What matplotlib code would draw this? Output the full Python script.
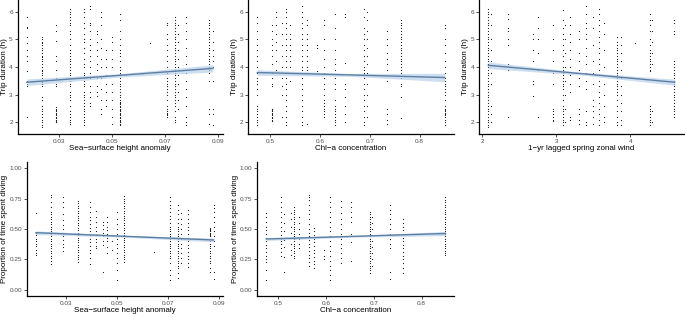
import matplotlib
matplotlib.use("Agg")
import matplotlib.pyplot as plt
import numpy as np

plt.rcParams['font.family'] = ['Liberation Sans', 'DejaVu Sans']

# ---------------- data ----------------
# Sea-surface height anomaly columns (shared by panels 1 and 4)
ssha_x = [0.018, 0.0238, 0.0288, 0.0344, 0.0394, 0.0416, 0.0444, 0.0459, 0.0479,
          0.050, 0.0529, 0.0644, 0.0707, 0.0738, 0.075, 0.0779, 0.0867, 0.0882]

ssha_trip = [
    [5.8, 5.45, 5.4, 5.1, 4.85, 4.6, 4.4, 4.2, 3.85, 3.5, 3.4, 3.3, 2.2],
    [5.1, 5.0, 4.9, 4.85, 4.8, 4.7, 4.6, 4.5, 4.4, 4.35, 4.3, 4.2, 4.1, 4.0, 3.9, 3.85, 3.8, 3.7,
     3.6, 3.5, 3.45, 3.4, 3.3, 2.9, 2.8, 2.6, 2.5, 2.4, 2.3, 2.2, 2.1, 2.0, 1.9, 1.85],
    [5.5, 5.3, 4.95, 4.4, 4.2, 3.9, 3.6, 3.4, 3.3, 2.55, 2.5, 2.45, 2.4, 2.35, 2.3, 2.25, 2.2,
     2.15, 2.1, 2.05, 2.0],
    [6.1, 6.0, 5.9, 5.8, 5.7, 5.6, 5.5, 5.3, 5.2, 5.0, 4.8, 4.6, 4.5, 4.4, 4.3, 4.2, 4.1, 4.0,
     3.9, 3.8, 3.7, 3.6, 3.5, 3.4, 3.3, 3.1, 3.0, 2.9, 2.8, 2.6, 2.4, 2.3, 2.2, 2.1, 2.0, 1.95],
    [6.1, 6.0, 5.8, 5.6, 5.4, 5.2, 5.0, 4.9, 4.7, 4.5, 4.3, 4.1, 4.0, 3.8, 3.7, 3.6, 3.5, 3.4,
     3.3, 3.1, 3.0, 2.9, 2.8, 2.7, 2.6, 2.5, 2.4, 2.3, 2.2, 2.1, 2.0, 1.9],
    [6.2, 6.1, 5.6, 5.5, 5.3, 5.0, 4.8, 4.6, 4.4, 4.2, 4.0, 3.8, 3.6, 3.3, 3.1, 2.9, 2.7, 2.6],
    [5.3, 5.2, 4.9, 4.6, 4.4, 4.1, 3.9, 3.6, 3.3, 3.1, 2.95],
    [6.0, 5.8, 5.5, 5.0, 4.7, 4.3, 4.0, 3.6, 3.2, 2.8, 2.5, 2.3],
    [4.6, 4.3, 4.0, 3.7, 3.4, 3.1, 2.8, 2.6],
    [5.1, 4.9, 4.6, 4.3, 4.0, 3.7, 3.4, 3.1, 2.8, 2.5, 2.2, 1.95],
    [5.9, 5.7, 5.3, 5.0, 4.8, 4.6, 4.5, 4.4, 4.2, 4.0, 3.9, 3.8, 3.7, 3.6, 3.5, 3.4, 3.3, 3.2,
     3.1, 3.0, 2.9, 2.8, 2.75, 2.7, 2.65, 2.6, 2.55, 2.5, 2.45, 2.4, 2.35, 2.3, 2.25, 2.2, 2.15,
     2.1, 2.05, 2.0, 1.95, 1.9],
    [4.85],
    [5.6, 5.5, 5.2, 5.0, 4.8, 4.6, 4.4, 4.2, 4.0, 3.8, 3.6, 3.5, 3.4, 3.3, 3.2, 3.1, 3.0, 2.8,
     2.6, 2.5, 2.4, 2.35, 2.3, 2.25, 2.2],
    [5.8, 5.7, 5.6, 5.5, 5.4, 5.3, 5.2, 5.1, 5.0, 4.9, 4.8, 4.7, 4.6, 4.5, 4.4, 4.3, 4.2, 4.1,
     4.0, 3.9, 3.8, 3.7, 3.6, 3.5, 3.4, 3.3, 3.2, 3.1, 3.0, 2.9, 2.8, 2.7, 2.6, 2.4, 2.2, 2.1, 2.0],
    [5.5, 5.2, 4.9, 4.6, 4.3, 4.0, 3.7, 3.4, 3.1, 2.8, 2.5],
    [5.8, 5.6, 5.3, 5.0, 4.7, 4.4, 4.1, 3.8, 3.5, 3.2, 2.9, 2.6, 2.2, 2.0, 1.9],
    [5.7, 5.6, 5.5, 5.4, 5.3, 5.2, 5.1, 5.0, 4.9, 4.8, 4.7, 4.6, 4.5, 4.4, 4.3, 4.2, 4.1, 4.0,
     3.9, 3.8, 3.5, 2.5, 2.3, 1.95],
    [5.3, 4.9, 4.6, 4.4, 4.2, 4.0, 3.5, 2.5, 2.3, 1.9],
]

ssha_prop = [
    [0.63, 0.47, 0.45, 0.42, 0.40, 0.38, 0.36, 0.33, 0.30, 0.29],
    [0.78, 0.76, 0.72, 0.68, 0.64, 0.62, 0.60, 0.58, 0.56, 0.54, 0.52, 0.50, 0.48, 0.46, 0.44,
     0.42, 0.40, 0.38, 0.36, 0.34, 0.32, 0.30, 0.28, 0.26, 0.24, 0.21],
    [0.76, 0.72, 0.68, 0.62, 0.57, 0.53, 0.50, 0.47, 0.44, 0.41, 0.38, 0.35, 0.32],
    [0.73, 0.71, 0.69, 0.67, 0.65, 0.63, 0.61, 0.59, 0.57, 0.55, 0.53, 0.51, 0.49, 0.47, 0.45,
     0.43, 0.41, 0.39, 0.37, 0.35, 0.33, 0.31, 0.29, 0.27, 0.25, 0.23],
    [0.72, 0.68, 0.64, 0.60, 0.57, 0.54, 0.51, 0.48, 0.45, 0.42, 0.39, 0.36, 0.33, 0.30, 0.26, 0.21],
    [0.65, 0.60, 0.56, 0.52, 0.48, 0.45, 0.42, 0.39, 0.36, 0.34],
    [0.56, 0.53, 0.50, 0.47, 0.44, 0.40, 0.37, 0.15],
    [0.60, 0.56, 0.52, 0.49, 0.46, 0.43, 0.40, 0.35, 0.30],
    [0.45, 0.40, 0.33],
    [0.64, 0.58, 0.54, 0.50, 0.46, 0.42, 0.38, 0.34, 0.30, 0.26, 0.22, 0.16, 0.08],
    [0.77, 0.75, 0.73, 0.71, 0.69, 0.67, 0.65, 0.63, 0.61, 0.59, 0.57, 0.55, 0.53, 0.51, 0.49,
     0.47, 0.45, 0.43, 0.41, 0.39, 0.37, 0.35, 0.33, 0.31, 0.29, 0.27, 0.25, 0.23],
    [0.31],
    [0.76, 0.73, 0.70, 0.67, 0.64, 0.61, 0.58, 0.55, 0.52, 0.50, 0.48, 0.46, 0.44, 0.42, 0.40,
     0.38, 0.36, 0.34, 0.32, 0.30, 0.28, 0.26, 0.22, 0.16, 0.12, 0.08],
    [0.70, 0.66, 0.62, 0.58, 0.55, 0.52, 0.50, 0.48, 0.46, 0.44, 0.42, 0.40, 0.38, 0.36, 0.34,
     0.32, 0.30, 0.28, 0.26, 0.24, 0.22, 0.20, 0.18, 0.14, 0.10],
    [0.63, 0.58, 0.54, 0.50, 0.46, 0.42, 0.38, 0.34, 0.30, 0.26, 0.22],
    [0.66, 0.62, 0.58, 0.55, 0.52, 0.49, 0.46, 0.43, 0.40, 0.37, 0.34, 0.31, 0.28, 0.25, 0.22, 0.19],
    [0.51, 0.50, 0.49, 0.48, 0.47, 0.46, 0.45, 0.44, 0.42, 0.40, 0.38, 0.36, 0.34, 0.32, 0.30,
     0.28, 0.26, 0.24, 0.22, 0.18, 0.15],
    [0.70, 0.67, 0.64, 0.60, 0.56, 0.52, 0.48, 0.44, 0.40, 0.36, 0.15, 0.09],
]

# Chl-a concentration columns
chl_trip_x = [0.475, 0.505, 0.512, 0.525, 0.533, 0.540, 0.565, 0.575, 0.595, 0.609,
              0.631, 0.651, 0.689, 0.695, 0.735, 0.762, 0.850]
chl_trip = [
    [5.8, 5.6, 5.3, 5.0, 4.8, 4.6, 4.4, 4.2, 4.0, 3.8, 3.6, 3.5, 3.4, 3.2, 3.0, 2.6, 2.5, 2.4,
     2.3, 2.2, 2.1, 2.0, 1.9],
    [5.5, 5.3, 5.0, 4.8, 4.6, 4.4, 4.1, 3.8, 3.6, 3.4, 3.3, 2.5, 2.45, 2.4, 2.35, 2.3, 2.25,
     2.2, 2.15, 2.1, 2.05],
    [6.0, 5.8, 5.5, 5.2, 4.9, 4.6, 4.2, 3.9],
    [5.6, 5.2, 4.8, 4.4, 4.0, 3.6, 3.3, 3.0, 2.2],
    [6.1, 6.0, 5.8, 5.6, 5.4, 5.2, 5.0, 4.8, 4.6, 4.4, 4.2, 4.0, 3.8, 3.6, 3.4, 3.2, 3.0, 2.8,
     2.6, 2.4, 2.2, 2.0, 1.9],
    [5.5, 5.2, 5.0, 4.8, 4.6, 4.4, 4.2, 4.0, 3.8, 3.5],
    [6.2, 6.0, 5.8, 5.6, 5.4, 5.2, 5.0, 4.8, 4.6, 4.4, 4.2, 4.0, 3.9, 3.8, 3.6, 3.4, 3.2, 3.0,
     2.8, 2.6, 2.4, 2.2, 2.0, 1.9],
    [5.7, 5.5, 5.2, 5.0, 4.8, 4.6, 4.4, 4.2, 4.0, 3.9, 3.8, 1.95],
    [4.8, 4.7, 3.85],
    [5.7, 5.5, 5.0, 4.6, 4.3, 4.0, 3.8, 3.6, 3.4, 3.2, 3.0, 2.8, 2.7, 2.6, 2.5, 2.4, 2.3, 2.2],
    [5.9, 5.4, 5.0, 4.6, 4.3, 4.1, 3.9, 3.6, 3.4, 3.2, 2.8, 2.6, 2.5, 2.4, 2.3, 2.2, 2.1, 2.0, 1.9],
    [5.9, 5.8, 4.15, 3.4, 3.2, 2.9, 2.6, 2.3, 2.0],
    [6.1, 5.8, 5.4, 5.2, 5.0, 4.8, 4.6, 4.4, 4.2, 4.0, 3.9, 3.8, 3.6, 3.4, 3.2, 3.0, 2.8, 2.6,
     2.4, 2.2, 2.0, 1.9],
    [6.0, 5.7, 5.3, 5.0, 4.7, 4.4, 4.1, 3.8, 3.4, 3.0, 2.6, 2.2],
    [5.3, 5.0, 4.8, 4.5, 4.3, 4.1, 3.9, 3.5, 2.5, 2.3, 2.1, 1.95],
    [5.7, 5.6, 5.5, 5.4, 5.3, 5.2, 5.1, 5.0, 4.9, 4.8, 4.7, 4.6, 4.5, 4.4, 4.3, 4.2, 4.1, 4.0,
     3.9, 3.8, 3.6, 3.4, 3.3, 2.9, 2.15],
    [5.5, 5.4, 5.0, 4.8, 4.5, 4.2, 4.0, 3.8, 3.6, 3.5, 3.4, 3.3, 3.2, 3.1, 3.0, 2.8, 2.6, 2.5,
     2.45, 2.4, 2.35, 2.3, 2.25, 2.2, 2.1, 2.0, 1.9],
]

chl_prop_x = [0.475, 0.505, 0.512, 0.526, 0.533, 0.543, 0.565, 0.576, 0.595, 0.609,
              0.632, 0.653, 0.692, 0.696, 0.735, 0.762, 0.849]
chl_prop = [
    [0.63, 0.60, 0.56, 0.52, 0.49, 0.46, 0.43, 0.40, 0.37, 0.34, 0.31, 0.28, 0.25, 0.23, 0.16, 0.08],
    [0.76, 0.72, 0.68, 0.64, 0.60, 0.56, 0.52, 0.48, 0.45, 0.42, 0.40, 0.38, 0.34, 0.31, 0.28],
    [0.62, 0.55, 0.48, 0.41, 0.35, 0.27, 0.15],
    [0.63, 0.58, 0.52, 0.47, 0.43, 0.38, 0.33, 0.29],
    [0.68, 0.66, 0.64, 0.62, 0.60, 0.58, 0.56, 0.54, 0.52, 0.50, 0.48, 0.46, 0.44, 0.42, 0.40,
     0.38, 0.36, 0.34, 0.32, 0.30, 0.28, 0.26],
    [0.60, 0.55, 0.50, 0.46, 0.42, 0.38, 0.34],
    [0.78, 0.76, 0.74, 0.70, 0.66, 0.62, 0.58, 0.54, 0.50, 0.47, 0.44, 0.41, 0.38, 0.35, 0.32,
     0.29, 0.26, 0.23, 0.20],
    [0.51, 0.48, 0.45, 0.42, 0.39, 0.36, 0.33, 0.30, 0.27, 0.24, 0.21, 0.18],
    [0.33, 0.28, 0.25],
    [0.76, 0.72, 0.68, 0.64, 0.60, 0.56, 0.52, 0.48, 0.44, 0.40, 0.36, 0.32, 0.28, 0.24, 0.20,
     0.16, 0.12, 0.08],
    [0.73, 0.68, 0.63, 0.58, 0.54, 0.50, 0.46, 0.42, 0.38, 0.34, 0.30, 0.26, 0.22],
    [0.72, 0.68, 0.64, 0.60, 0.56, 0.46, 0.39, 0.24],
    [0.64, 0.62, 0.60, 0.58, 0.56, 0.54, 0.52, 0.50, 0.48, 0.46, 0.44, 0.42, 0.40, 0.38, 0.36,
     0.34, 0.32, 0.30, 0.28, 0.26, 0.24, 0.22, 0.20, 0.18, 0.16, 0.14],
    [0.60, 0.55, 0.50, 0.45, 0.40, 0.35, 0.30, 0.25, 0.20],
    [0.70, 0.66, 0.62, 0.58, 0.54, 0.50, 0.46, 0.42, 0.38, 0.34, 0.15, 0.09],
    [0.58, 0.55, 0.52, 0.49, 0.46, 0.43, 0.40, 0.37, 0.34, 0.31, 0.28, 0.25, 0.22, 0.18, 0.14],
    [0.76, 0.74, 0.72, 0.70, 0.68, 0.66, 0.64, 0.62, 0.60, 0.58, 0.56, 0.54, 0.52, 0.50, 0.48,
     0.46, 0.44, 0.42, 0.40, 0.38, 0.36, 0.34, 0.32, 0.30, 0.29],
]

# 1-yr lagged spring zonal wind columns
wind_x = [2.08, 2.11, 2.35, 2.69, 2.75, 2.95, 3.09, 3.12, 3.18, 3.31, 3.40, 3.49,
          3.57, 3.64, 3.82, 3.88, 4.06, 4.27, 4.29, 4.59]
wind_trip = [
    [6.1, 6.0, 5.9, 5.8, 5.7, 5.6, 5.5, 5.4, 5.3, 5.2, 5.1, 5.0, 4.9, 4.8, 4.7, 4.6, 4.5, 4.4,
     4.3, 4.2, 4.1, 4.0, 3.9, 3.8, 3.7, 3.6, 3.5, 3.4, 3.3, 3.2, 3.1, 3.0, 2.9, 2.8, 2.7, 2.6,
     2.5, 2.4, 2.3, 2.2, 2.1, 2.0, 1.9, 1.85],
    [5.9, 5.5, 5.0, 4.6, 4.2, 3.8, 3.4, 2.6, 2.3, 2.0],
    [5.9, 5.75, 5.4, 5.3, 5.0, 4.8, 4.1, 3.9, 2.2],
    [5.2, 5.0, 4.6, 4.2, 3.5, 3.4, 2.95],
    [5.8, 5.4, 5.0, 4.5, 3.9, 2.2],
    [5.5, 5.0, 4.6, 4.2, 3.8, 3.4, 2.5, 2.4, 2.3, 2.2, 2.1, 2.05],
    [6.05, 5.7, 5.4, 5.2, 5.0, 4.8, 4.6, 4.4, 4.2, 4.0, 3.9, 3.8, 3.7, 3.6, 3.5, 3.4, 3.3, 3.2,
     3.0, 2.8, 2.6, 2.5, 2.4, 2.3, 2.2, 2.1, 2.0, 1.9],
    [5.5, 5.0, 4.5, 4.0, 3.5, 3.0, 2.5, 2.0],
    [5.8, 5.5, 5.2, 4.9, 4.6, 4.3, 4.0, 3.7, 3.4, 3.1, 2.2, 2.1],
    [5.3, 5.0, 4.5, 4.2, 3.9, 3.6, 3.3, 2.5, 2.3, 2.1, 1.95],
    [6.2, 5.9, 5.6, 5.4, 5.2, 5.0, 4.7, 4.4, 4.1, 3.8, 3.5, 3.2, 2.4, 2.0, 1.9],
    [5.8, 5.4, 4.8, 4.2, 3.8, 3.4, 2.8, 2.6, 2.4, 2.2, 1.95],
    [6.1, 5.9, 5.7, 5.5, 5.3, 5.1, 4.9, 4.7, 4.5, 4.3, 4.1, 3.9, 3.7, 3.5, 3.3, 3.1, 2.9, 2.7,
     2.5, 2.3, 2.1, 1.9],
    [5.6, 5.2, 4.6, 4.0, 3.4, 3.0, 2.6, 2.2, 2.0],
    [5.1, 4.9, 4.8, 4.7, 4.6, 4.5, 4.4, 4.3, 4.2, 4.1, 4.0, 3.9, 3.8, 3.7, 3.6, 3.5, 3.4, 3.3,
     3.2, 3.1, 3.0, 2.8, 2.6, 2.4, 2.2, 2.0, 1.9],
    [5.1, 4.8, 4.5, 4.2, 3.9, 3.6, 3.3, 3.0, 2.7, 2.4, 2.1, 1.9],
    [4.85],
    [5.9, 5.7, 5.5, 5.3, 5.0, 4.8, 4.6, 4.5, 4.4, 4.3, 4.2, 4.1, 4.0, 3.9, 3.85, 2.6, 2.5, 2.4,
     2.3, 2.2, 2.1, 2.0, 1.9],
    [5.7, 5.3, 4.9, 4.5, 4.1, 2.4, 2.0],
    [5.7, 5.6, 5.3, 5.2, 4.2, 4.1, 4.0, 3.9, 3.8, 3.7, 3.6, 3.5, 3.4, 3.3, 3.2, 3.1, 3.0, 2.9,
     2.8, 2.7, 2.6, 2.5, 2.4, 2.3, 2.2],
]

# fitted linear trends (x at start / middle / end, fitted y, CI half-width)
fit_ssha_trip = dict(x=[0.018, 0.053, 0.088], y=[3.45, 3.70, 3.95], ci=[0.12, 0.06, 0.13])
fit_chl_trip = dict(x=[0.475, 0.66, 0.85], y=[3.80, 3.715, 3.62], ci=[0.10, 0.05, 0.15])
fit_wind_trip = dict(x=[2.08, 3.34, 4.6], y=[4.06, 3.76, 3.45], ci=[0.12, 0.05, 0.11])
fit_ssha_prop = dict(x=[0.018, 0.053, 0.088], y=[0.47, 0.44, 0.41], ci=[0.015, 0.008, 0.015])
fit_chl_prop = dict(x=[0.475, 0.66, 0.85], y=[0.418, 0.44, 0.463], ci=[0.012, 0.007, 0.017])

# ---------------- plotting ----------------
W, H = 685, 317
fig = plt.figure(figsize=(W / 100, H / 100), dpi=100)


def px_axes(l, r, t, b):
    return fig.add_axes([l / W, 1 - b / H, (r - l) / W, (b - t) / H])


def style(ax, xlabel, ylabel, xticks, xtl, yticks, ytl, xlim, ylim):
    for s in ['top', 'right']:
        ax.spines[s].set_visible(False)
    for s in ['left', 'bottom']:
        ax.spines[s].set_linewidth(0.9)
        ax.spines[s].set_color('black')
    ax.set_xlim(*xlim)
    ax.set_ylim(*ylim)
    ax.set_xticks(xticks)
    ax.set_xticklabels(xtl)
    ax.set_yticks(yticks)
    ax.set_yticklabels(ytl)
    ax.tick_params(axis='both', length=2.2, width=0.6, color='#333333',
                   labelsize=4.6, labelcolor='#4d4d4d', pad=1.2)
    ax.set_xlabel(xlabel, fontsize=5.8, color='black', labelpad=1)
    ax.set_ylabel(ylabel, fontsize=5.8, color='black', labelpad=1)


def draw(ax, xs, ys, fit):
    px, py = [], []
    for x, col in zip(xs, ys):
        px.extend([x] * len(col))
        py.extend(col)
    ax.scatter(px, py, s=0.7, color='#111111', linewidths=0, zorder=2)
    fx = np.array(fit['x'])
    fy = np.array(fit['y'])
    ci = np.array(fit['ci'])
    ax.fill_between(fx, fy - ci, fy + ci, color='#b7d0ea', alpha=0.7, linewidth=0, zorder=3)
    ax.plot(fx, fy, color='#5d7fa3', linewidth=1.0, zorder=4)


ssha_lim = (0.0145, 0.0917)
chl_lim = (0.4563, 0.8688)
trip_lim = (1.58, 6.42)
prop_lim = (-0.05, 1.05)
trip_ticks = [2, 3, 4, 5, 6]
trip_tl = ['2', '3', '4', '5', '6']
prop_ticks = [0, 0.25, 0.5, 0.75, 1.0]
prop_tl = ['0.00', '0.25', '0.50', '0.75', '1.00']
ssha_ticks = [0.03, 0.05, 0.07, 0.09]
ssha_tl = ['0.03', '0.05', '0.07', '0.09']
chl_ticks = [0.5, 0.6, 0.7, 0.8]
chl_tl = ['0.5', '0.6', '0.7', '0.8']
wind_ticks = [2, 3, 4]
wind_tl = ['2', '3', '4']

ax1 = px_axes(17.5, 222.7, 0, 134)
draw(ax1, ssha_x, ssha_trip, fit_ssha_trip)
style(ax1, 'Sea\u2212surface height anomaly', 'Trip duration (h)',
      ssha_ticks, ssha_tl, trip_ticks, trip_tl, ssha_lim, trip_lim)

ax2 = px_axes(248, 454, 0, 134)
draw(ax2, chl_trip_x, chl_trip, fit_chl_trip)
style(ax2, 'Chl\u2212a concentration', 'Trip duration (h)',
      chl_ticks, chl_tl, trip_ticks, trip_tl, chl_lim, trip_lim)

ax3 = px_axes(479, 684, 0, 134)
draw(ax3, wind_x, wind_trip, fit_wind_trip)
style(ax3, '1\u2212yr lagged spring zonal wind', 'Trip duration (h)',
      wind_ticks, wind_tl, trip_ticks, trip_tl, (1.954, 4.726), trip_lim)

ax4 = px_axes(27, 223, 162, 296)
draw(ax4, ssha_x, ssha_prop, fit_ssha_prop)
style(ax4, 'Sea\u2212surface height anomaly', 'Proportion of time spent diving',
      ssha_ticks, ssha_tl, prop_ticks, prop_tl, ssha_lim, prop_lim)

ax5 = px_axes(257.3, 454.4, 162, 296)
draw(ax5, chl_prop_x, chl_prop, fit_chl_prop)
style(ax5, 'Chl\u2212a concentration', 'Proportion of time spent diving',
      chl_ticks, chl_tl, prop_ticks, prop_tl, chl_lim, prop_lim)

fig.savefig('out.png', dpi=100, facecolor='white')
